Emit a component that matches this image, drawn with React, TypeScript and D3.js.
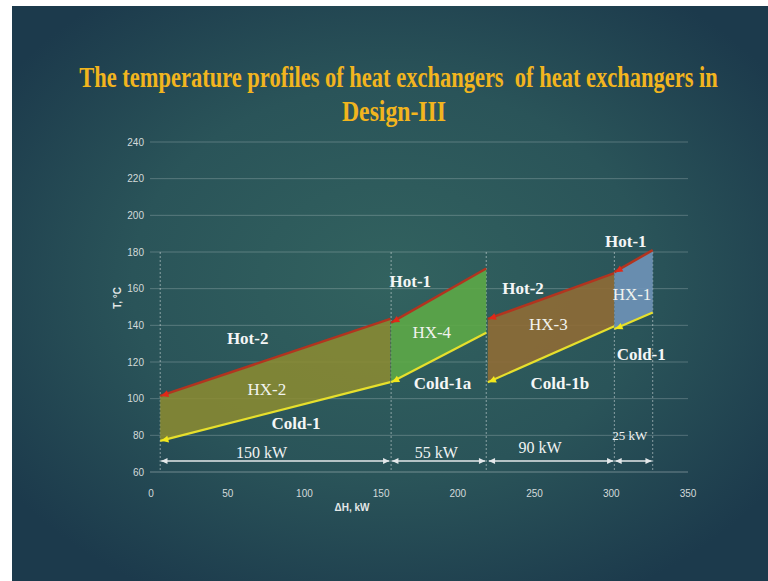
import React from "react";
import * as d3 from "d3";

// ---- data ----
const exchangers = ["HX-2", "HX-4", "HX-3", "HX-1"];
const dhStart = [6, 156.5, 219.5, 302];
const dhEnd = [156, 218.5, 302, 327];
const hotStart = [101.5, 141.5, 143.5, 169];
const hotEnd = [143.5, 171, 168.5, 181];
const coldStart = [77, 109, 109, 138];
const coldEnd = [109, 136, 139.5, 147];
const hotNames = ["Hot-2", "Hot-1", "Hot-2", "Hot-1"];
const coldNames = ["Cold-1", "Cold-1a", "Cold-1b", "Cold-1"];
const duties = ["150 kW", "55 kW", "90 kW", "25 kW"];
const dividers = [6, 156.5, 218.5, 302, 327];
const yTicks = [60, 80, 100, 120, 140, 160, 180, 200, 220, 240];
const xTicks = [0, 50, 100, 150, 200, 250, 300, 350];

const fills = ["#8d8c30", "#5da947", "#8f6b35", "#6f94b8"];
const fillOpacity = [0.85, 0.9, 0.9, 0.9];

// label anchors (data coords) for each exchanger
const hotLabelPos: [number, number][] = [[63, 133], [169, 164], [242.5, 160.5], [309.5, 186]];
const hxLabelPos: [number, number][] = [[75.5, 105.5], [183, 136.5], [259, 140.5], [313.5, 157]];
const coldLabelPos: [number, number][] = [[94.5, 86.5], [190, 108.5], [266.5, 108.5], [319.5, 124.5]];
const dutyLabelPos: [number, number][] = [[72, 67.8], [186, 67.8], [253.5, 70.3], [312, 77.3]];
const dutySize = [16, 16, 16, 13];

const W = 768;
const H = 581;

export default function App() {
  const x = d3.scaleLinear().domain([0, 350]).range([151, 688]);
  const y = d3.scaleLinear().domain([60, 240]).range([472, 142]);

  const serif = "'Liberation Serif', 'Times New Roman', serif";
  const narrow = "'Liberation Sans Narrow', 'Liberation Sans', Arial, sans-serif";

  const line = d3
    .line<[number, number]>()
    .x((d) => x(d[0]))
    .y((d) => y(d[1]));

  const area = d3
    .area<{ dh: number; lo: number; hi: number }>()
    .x((d) => x(d.dh))
    .y0((d) => y(d.lo))
    .y1((d) => y(d.hi));

  const arrowHead = (px: number, py: number, angle: number, size: number) => {
    const a1 = angle + Math.PI - 0.45;
    const a2 = angle + Math.PI + 0.45;
    return `M${px},${py}L${px + size * Math.cos(a1)},${py + size * Math.sin(a1)}L${
      px + size * Math.cos(a2)
    },${py + size * Math.sin(a2)}Z`;
  };

  const dimY = y(66);

  return (
    <svg
      width={W}
      height={H}
      style={{ position: "absolute", left: 0, top: 0, display: "block" }}
    >
      <defs>
        <radialGradient id="bg" cx="0.5" cy="0.48" r="0.62" gradientUnits="objectBoundingBox">
          <stop offset="0" stopColor="#32625f" />
          <stop offset="0.55" stopColor="#2a5459" />
          <stop offset="1" stopColor="#1c3a4c" />
        </radialGradient>
      </defs>
      <rect x={0} y={0} width={W} height={H} fill="#ffffff" />
      <rect x={12} y={6} width={W - 12} height={H - 6} fill="url(#bg)" />

      {/* title */}
      <text
        transform="translate(398.5,87) scale(0.75,1)"
        textAnchor="middle"
        fontFamily={serif}
        fontWeight="bold"
        fontSize={30}
        fill="#f2b51e"
        style={{ whiteSpace: "pre" }}
      >
        {"The temperature profiles of heat exchangers  of heat exchangers in"}
      </text>
      <text
        transform="translate(394,121) scale(0.79,1)"
        textAnchor="middle"
        fontFamily={serif}
        fontWeight="bold"
        fontSize={30}
        fill="#f2b51e"
      >
        Design-III
      </text>

      {/* grid */}
      {yTicks.map((t) => (
        <line
          key={"g" + t}
          x1={150}
          x2={688}
          y1={y(t)}
          y2={y(t)}
          stroke="#ffffff"
          strokeOpacity={t === 60 ? 0.35 : 0.22}
          strokeWidth={1}
        />
      ))}
      {yTicks.map((t) => (
        <text
          key={"yl" + t}
          x={144}
          y={y(t)}
          dy="0.35em"
          textAnchor="end"
          fontFamily={narrow}
          fontSize={10}
          fill="#d3dada"
        >
          {t}
        </text>
      ))}
      {xTicks.map((t) => (
        <text
          key={"xl" + t}
          x={x(t)}
          y={497}
          textAnchor="middle"
          fontFamily={narrow}
          fontSize={10}
          fill="#d3dada"
        >
          {t}
        </text>
      ))}
      <text
        x={352}
        y={511}
        textAnchor="middle"
        fontFamily={narrow}
        fontWeight="bold"
        fontSize={10}
        fill="#e3e8e8"
      >
        ΔH, kW
      </text>
      <text
        transform={`translate(121,${y(155)}) rotate(-90)`}
        textAnchor="middle"
        fontFamily={narrow}
        fontWeight="bold"
        fontSize={10}
        fill="#e3e8e8"
      >
        T, °C
      </text>

      {/* dashed dividers */}
      {dividers.map((d, i) => (
        <line
          key={"dv" + i}
          x1={x(d)}
          x2={x(d)}
          y1={y(180)}
          y2={y(60)}
          stroke="#ffffff"
          strokeOpacity={0.45}
          strokeDasharray="2,2"
        />
      ))}

      {/* exchangers */}
      {exchangers.map((hx, i) => {
        const pts = [
          { dh: dhStart[i], lo: coldStart[i], hi: hotStart[i] },
          { dh: dhEnd[i], lo: coldEnd[i], hi: hotEnd[i] },
        ];
        const hot: [number, number][] = [
          [dhStart[i], hotStart[i]],
          [dhEnd[i], hotEnd[i]],
        ];
        const cold: [number, number][] = [
          [dhStart[i], coldStart[i]],
          [dhEnd[i], coldEnd[i]],
        ];
        const hAng = Math.atan2(y(hotStart[i]) - y(hotEnd[i]), x(dhStart[i]) - x(dhEnd[i]));
        const cAng = Math.atan2(y(coldStart[i]) - y(coldEnd[i]), x(dhStart[i]) - x(dhEnd[i]));
        return (
          <g key={hx}>
            <path d={area(pts) || ""} fill={fills[i]} fillOpacity={fillOpacity[i]} />
            <path d={line(hot) || ""} stroke="#b2341f" strokeWidth={2.5} fill="none" />
            <path d={line(cold) || ""} stroke="#e6df2c" strokeWidth={2.2} fill="none" />
            <path
              d={arrowHead(x(dhStart[i]) + 1, y(hotStart[i]), hAng, 8)}
              fill="#e02818"
            />
            <path
              d={arrowHead(x(dhStart[i]) + 1, y(coldStart[i]), cAng, 8)}
              fill="#f3e81c"
            />
          </g>
        );
      })}

      {/* dimension arrows */}
      {duties.map((d, i) => {
        const x1 = x(dhStart[i]) + 1;
        const x2 = x(dhEnd[i]) - 1;
        return (
          <g key={"dim" + i}>
            <line x1={x1} x2={x2} y1={dimY} y2={dimY} stroke="#e4e8ea" strokeWidth={1.6} />
            <path d={arrowHead(x1, dimY, Math.PI, 7)} fill="#e4e8ea" />
            <path d={arrowHead(x2, dimY, 0, 7)} fill="#e4e8ea" />
            <text
              x={x(dutyLabelPos[i][0])}
              y={y(dutyLabelPos[i][1])}
              textAnchor="middle"
              fontFamily={serif}
              fontSize={dutySize[i]}
              fill="#f1f3f3"
            >
              {d}
            </text>
          </g>
        );
      })}

      {/* labels */}
      {exchangers.map((hx, i) => (
        <g key={"lab" + hx}>
          <text
            x={x(hotLabelPos[i][0])}
            y={y(hotLabelPos[i][1])}
            dy="0.35em"
            textAnchor="middle"
            fontFamily={serif}
            fontWeight="bold"
            fontSize={17}
            fill="#f4f6f6"
          >
            {hotNames[i]}
          </text>
          <text
            x={x(hxLabelPos[i][0])}
            y={y(hxLabelPos[i][1])}
            dy="0.35em"
            textAnchor="middle"
            fontFamily={serif}
            fontSize={17}
            fill="#f1f3ee"
          >
            {hx}
          </text>
          <text
            x={x(coldLabelPos[i][0])}
            y={y(coldLabelPos[i][1])}
            dy="0.35em"
            textAnchor="middle"
            fontFamily={serif}
            fontWeight="bold"
            fontSize={17}
            fill="#f4f6f6"
          >
            {coldNames[i]}
          </text>
        </g>
      ))}
    </svg>
  );
}
